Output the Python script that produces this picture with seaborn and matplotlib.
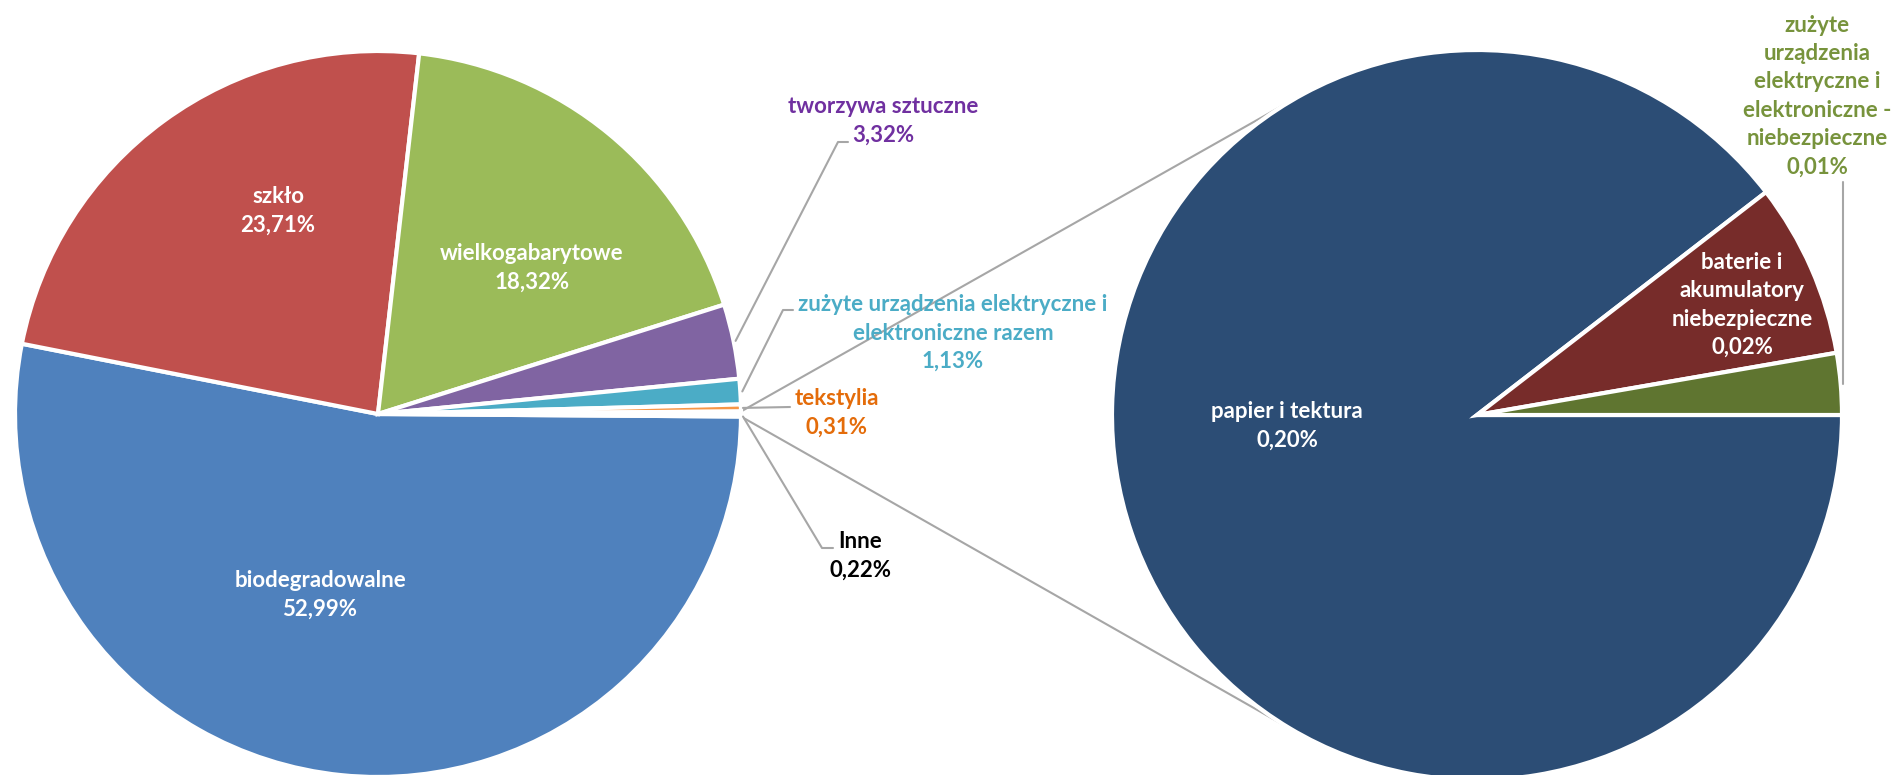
import numpy as np
import matplotlib
matplotlib.use("Agg")
import matplotlib.pyplot as plt
import seaborn as sns

# ---------------- data ----------------
main_labels = ["biodegradowalne", "szkło", "wielkogabarytowe", "tworzywa sztuczne",
               "zużyte urządzenia elektryczne i\nelektroniczne razem", "tekstylia", "Inne"]
main_values = [52.99, 23.71, 18.32, 3.32, 1.13, 0.31, 0.22]
main_colors = ["#4F81BD", "#C0504D", "#9BBB59", "#8064A2", "#4BACC6", "#F79646", "#FFFFFF"]
main_text_colors = ["white", "white", "white", "#7030A0", "#4BACC6", "#E46C0A", "black"]

sub_labels = ["papier i tektura", "baterie i\nakumulatory\nniebezpieczne",
              "zużyte\nurządzenia\nelektryczne i\nelektroniczne -\nniebezpieczne"]
sub_values = [0.197, 0.017, 0.006]
sub_display = [0.20, 0.02, 0.01]
sub_colors = ["#2C4D75", "#772C2A", "#5F7530"]
sub_text_colors = ["white", "white", "#77933C"]


def pct(v):
    return f"{v:.2f}".replace(".", ",") + "%"


sns.set_theme(style="white")
plt.rcParams['font.family'] = ['Lato', 'DejaVu Sans']

W, H = 1895, 775
fig = plt.figure(figsize=(W / 100, H / 100), dpi=100)
ax = fig.add_axes([0, 0, 1, 1])

c1, r1 = (378, H - 414), 363
c2, r2 = (1477, H - 415), 365

inne_deg = 360 * main_values[-1] / sum(main_values)
wp = dict(edgecolor="white", linewidth=3)
ax.pie(main_values, colors=main_colors, center=c1, radius=r1,
       startangle=360 - inne_deg / 2, counterclock=False, wedgeprops=wp)
ax.pie(sub_values, colors=sub_colors, center=c2, radius=r2,
       startangle=0, counterclock=False, wedgeprops=wp)

ax.set_xlim(0, W)
ax.set_ylim(0, H)
ax.set_aspect("equal")
ax.axis("off")


def edge(c, r, deg):
    a = np.radians(deg)
    return c[0] + r * np.cos(a), c[1] + r * np.sin(a)


# connector lines (tangent to secondary pie)
line_col = "#A6A6A6"
for sgn in (1, -1):
    p = edge(c1, r1, sgn * inne_deg / 2)
    dx, dy = p[0] - c2[0], p[1] - c2[1]
    d = np.hypot(dx, dy)
    phi = np.degrees(np.arctan2(dy, dx)) % 360
    alpha = np.degrees(np.arccos(r2 / d))
    t = edge(c2, r2, phi - sgn * alpha)
    ax.plot([p[0], t[0]], [p[1], t[1]], color=line_col, lw=1.5, zorder=0)

fs = 16
kw = dict(ha="center", va="center", fontsize=fs, fontweight="bold", linespacing=1.43)

# main pie labels (positions in pixel layout, y from top)
main_pos = [(320, 595), (278, 211), (532, 268), (883, 121), (953, 333), (837, 413), (860, 556)]
for lab, v, col, (x, y) in zip(main_labels, main_values, main_text_colors, main_pos):
    ax.text(x, H - y, f"{lab}\n{pct(v)}", color=col, **kw)

sub_pos = [(1287, 426), (1742, 305), (1817, 96)]
for lab, v, col, (x, y) in zip(sub_labels, sub_display, sub_text_colors, sub_pos):
    ax.text(x, H - y, f"{lab}\n{pct(v)}", color=col, **kw)

# leader lines
starts = np.cumsum([0] + main_values[:-1])
total = sum(main_values)
start_ang = 360 - inne_deg / 2


def mid_angle(i):
    a0 = start_ang - 360 * starts[i] / total
    return a0 - 180 * main_values[i] / total


leaders = [
    (3, [(838, 142), (848, 142)]),
    (4, [(783, 310), (793, 310)]),
    (5, [(790, 407)]),
]
for i, pts in leaders:
    p = edge(c1, r1 + 2, mid_angle(i))
    xs = [p[0]] + [q[0] for q in pts]
    ys = [p[1]] + [H - q[1] for q in pts]
    ax.plot(xs, ys, color=line_col, lw=1.5)

# Inne leader
p = edge(c1, r1 + 2, -inne_deg / 2)
ax.plot([p[0], 822, 833], [p[1], H - 548, H - 548], color=line_col, lw=1.5)

# secondary small slice leader
sub_starts = np.cumsum([0] + sub_values[:-1])
sub_total = sum(sub_values)
g_mid = -360 * sub_starts[2] / sub_total - 180 * sub_values[2] / sub_total
gp = edge(c2, r2 + 2, g_mid)
ax.plot([gp[0], gp[0]], [gp[1], H - 182], color=line_col, lw=1.5)

fig.savefig("out.png", dpi=100, facecolor="white")
